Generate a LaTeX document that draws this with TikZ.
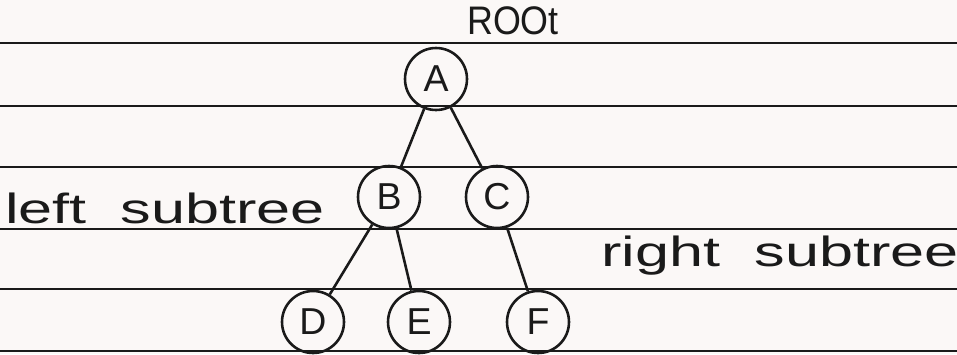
\documentclass[tikz,border=0pt]{standalone}
\usepackage{fontspec}
\setmainfont{Liberation Sans}
\definecolor{paper}{HTML}{FBF8F7}
\definecolor{ink}{HTML}{1A1A1A}
\begin{document}
\begin{tikzpicture}[x=0.03cm,y=-0.03cm,
  ruled/.style={draw=ink, line width=1.6pt},
  vert/.style={circle, draw=ink, line width=2.2pt, minimum size=62*0.03cm, inner sep=0pt, text=ink, font=\fontsize{32}{32}\selectfont},
  edge/.style={draw=ink, line width=2.2pt},
  hand/.style={font=\fontsize{36}{36}\selectfont, inner sep=0pt, text=ink}]
\fill[paper] (0,0) rectangle (957,354);
\useasboundingbox (0,0) rectangle (957,354);
\foreach \yy in {43,106,167,229,289,351} {
  \draw[ruled] (0,\yy) -- (957,\yy);
}
\node[vert] (A) at (436,79) {A};
\node[vert] (B) at (389,197) {B};
\node[vert] (C) at (497,197) {C};
\node[vert] (D) at (313,322) {D};
\node[vert] (E) at (419,322) {E};
\node[vert] (F) at (538,322) {F};
\draw[edge] (A) -- (B);
\draw[edge] (A) -- (C);
\draw[edge] (B) -- (D);
\draw[edge] (B) -- (E);
\draw[edge] (C) -- (F);
\node[hand, font=\fontsize{34}{34}\selectfont, xscale=0.9] (root) at (513,21) {ROOt};
\node[hand, xscale=1.45] (lsub) at (165,208) {left\ \ subtree};
\node[hand, xscale=1.45] (rsub) at (780,256) {right\ \ subtree};
\end{tikzpicture}
\end{document}
